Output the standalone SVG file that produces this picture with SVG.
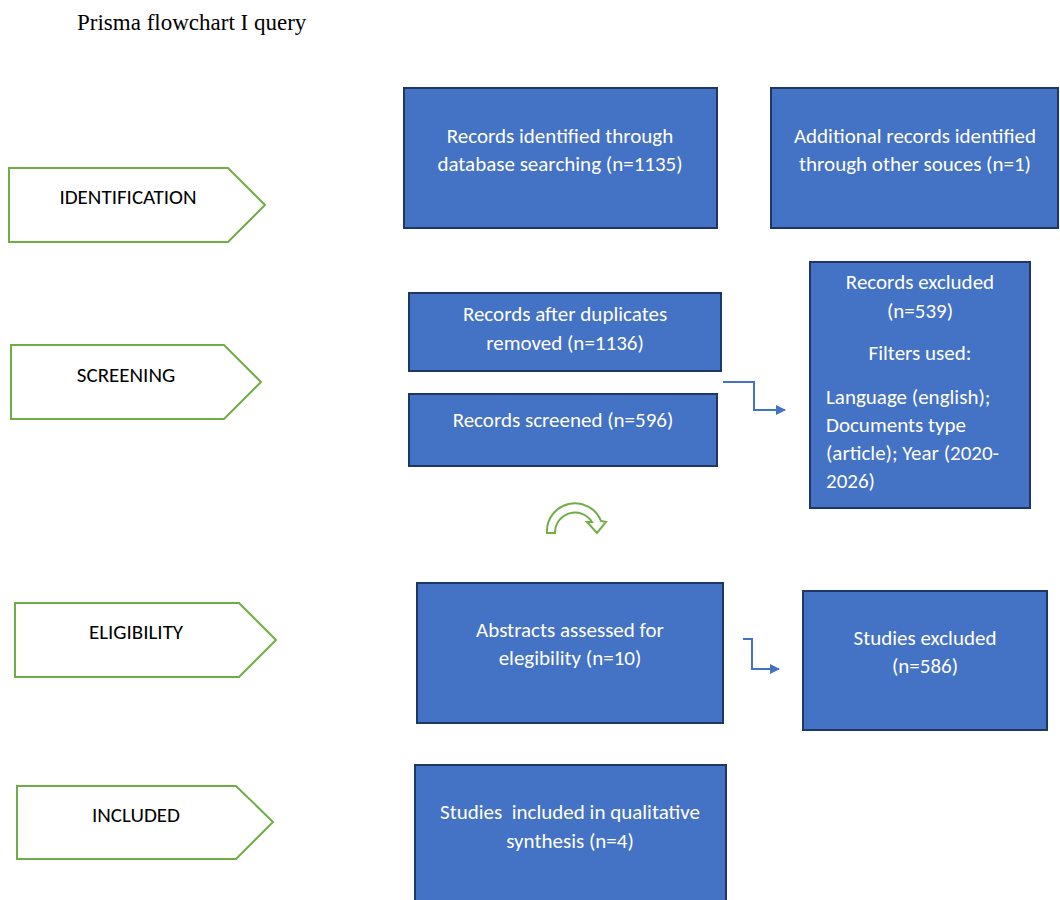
<svg xmlns="http://www.w3.org/2000/svg" width="1060" height="900" viewBox="0 0 1060 900">
<style>
.box{fill:#4472C4;stroke:#1F3763;stroke-width:2}
.bt{font-family:Carlito,Lato,"Liberation Sans",sans-serif;font-size:21px;fill:#ffffff;text-anchor:middle}
.btl{font-family:Carlito,Lato,"Liberation Sans",sans-serif;font-size:21px;fill:#ffffff}
.tag{fill:#ffffff;stroke:#70AD47;stroke-width:2}
.tt{font-family:Carlito,Lato,"Liberation Sans",sans-serif;font-size:21px;fill:#000000;text-anchor:middle}
.conn{fill:none;stroke:#4472C4;stroke-width:2}
</style>
<defs>
<marker id="ah" markerWidth="10" markerHeight="10" refX="9" refY="5" orient="auto" markerUnits="userSpaceOnUse">
<path d="M0,0 L10,5 L0,10 Z" fill="#4472C4"/>
</marker>
</defs>
<rect width="1060" height="900" fill="#ffffff"/>
<text x="77" y="30" font-family="'Liberation Serif',serif" font-size="23" fill="#000">Prisma flowchart I query</text>

<g id="tag-identification">
<path class="tag" d="M9,168 L228,168 L265,205 L228,242 L9,242 Z"/>
<text class="tt" x="128" y="204">IDENTIFICATION</text>
</g>
<g id="tag-screening">
<path class="tag" d="M11,345 L224,345 L261,382 L224,419 L11,419 Z"/>
<text class="tt" x="126" y="382">SCREENING</text>
</g>
<g id="tag-eligibility">
<path class="tag" d="M15,603 L239,603 L276,640 L239,677 L15,677 Z"/>
<text class="tt" x="136" y="639">ELIGIBILITY</text>
</g>
<g id="tag-included">
<path class="tag" d="M17,786 L236,786 L273,822 L236,859 L17,859 Z"/>
<text class="tt" x="136" y="822">INCLUDED</text>
</g>

<g id="n-identified">
<rect class="box" x="404" y="88" width="313" height="140"/>
<text class="bt" x="560" y="143">Records identified through</text>
<text class="bt" x="560" y="171">database searching (n=1135)</text>
</g>
<g id="n-additional">
<rect class="box" x="771" y="88" width="287" height="140"/>
<text class="bt" x="915" y="143">Additional records identified</text>
<text class="bt" x="915" y="171">through other souces (n=1)</text>
</g>
<g id="n-duplicates">
<rect class="box" x="409" y="293" width="312" height="78"/>
<text class="bt" x="565" y="321">Records after duplicates</text>
<text class="bt" x="565" y="350">removed (n=1136)</text>
</g>
<g id="n-screened">
<rect class="box" x="409" y="394" width="308" height="72"/>
<text class="bt" x="563" y="427">Records screened (n=596)</text>
</g>
<g id="n-rec-excluded">
<rect class="box" x="810" y="262" width="220" height="246"/>
<text class="bt" x="920" y="289">Records excluded</text>
<text class="bt" x="920" y="318">(n=539)</text>
<text class="bt" x="920" y="360">Filters used:</text>
<text class="btl" x="826" y="404">Language (english);</text>
<text class="btl" x="826" y="432">Documents type</text>
<text class="btl" x="826" y="460">(article); Year (2020-</text>
<text class="btl" x="826" y="488">2026)</text>
</g>
<g id="n-abstracts">
<rect class="box" x="417" y="583" width="306" height="140"/>
<text class="bt" x="570" y="637">Abstracts assessed for</text>
<text class="bt" x="570" y="665">elegibility (n=10)</text>
</g>
<g id="n-studies-excluded">
<rect class="box" x="803" y="591" width="244" height="139"/>
<text class="bt" x="925" y="645">Studies excluded</text>
<text class="bt" x="925" y="673">(n=586)</text>
</g>
<g id="n-included">
<rect class="box" x="415" y="765" width="311" height="145"/>
<text class="bt" x="570" y="819" xml:space="preserve">Studies  included in qualitative</text>
<text class="bt" x="570" y="848">synthesis (n=4)</text>
</g>

<g id="connectors">
<path class="conn" d="M723,382 L754,382 L754,410 L785,410" marker-end="url(#ah)"/>
<path class="conn" d="M743,639 L752,639 L752,669 L779,669" marker-end="url(#ah)"/>
<path d="M547,533 A28,28 0 0 1 601,521 L606,522 L597,533 L587,522 L592,522 A20,20 0 0 0 555,533 Z" fill="#ffffff" stroke="#70AD47" stroke-width="2" stroke-linejoin="miter"/>
</g>
</svg>
